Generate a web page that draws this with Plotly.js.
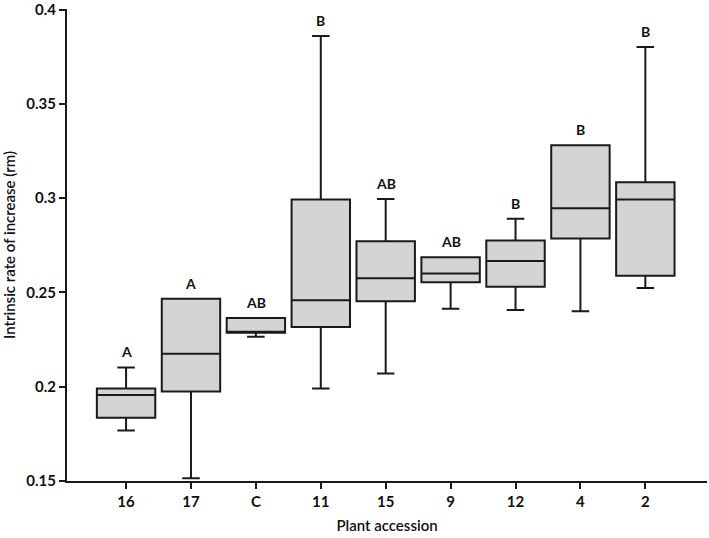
<!DOCTYPE html>
<html>
<head>
<meta charset="utf-8">
<script src="https://cdn.plot.ly/plotly-3.0.1.min.js"></script>
<style>html,body{margin:0;padding:0;background:#fff;}#chart{width:709px;height:538px;}</style>
</head>
<body>
<div id="chart"></div>
<script>
const categories = ["16", "17", "C", "11", "15", "9", "12", "4", "2"];
const lowerWhisker = [0.1768, 0.1514, 0.2265, 0.1991, 0.2070, 0.2414, 0.2407, 0.2400, 0.2523];
const q1Values     = [0.1835, 0.1974, 0.2286, 0.2317, 0.2453, 0.2554, 0.2530, 0.2786, 0.2588];
const medianValues = [0.1956, 0.2175, 0.2288, 0.2458, 0.2575, 0.2600, 0.2667, 0.2947, 0.2993];
const q3Values     = [0.1990, 0.2467, 0.2365, 0.2993, 0.2772, 0.2686, 0.2775, 0.3280, 0.3084];
const upperWhisker = [0.2102, 0.2467, 0.2365, 0.3860, 0.2996, 0.2686, 0.2891, 0.3280, 0.3802];
const groupLetters = ["A", "A", "AB", "B", "AB", "AB", "B", "B", "B"];
const yTickVals = [0.15, 0.2, 0.25, 0.3, 0.35, 0.4];
const yTickText = ["0.15", "0.2", "0.25", "0.3", "0.35", "0.4"];

const fontFam = "Lato, Open Sans, sans-serif";

const trace = {
  type: "box",
  x: categories,
  q1: q1Values,
  median: medianValues,
  q3: q3Values,
  lowerfence: lowerWhisker,
  upperfence: upperWhisker,
  boxpoints: false,
  width: 0.9,
  whiskerwidth: 0.3,
  fillcolor: "#d4d4d4",
  line: {color: "#1a1a1a", width: 2},
  hoverinfo: "skip",
  showlegend: false
};

const annotations = categories.map((c, i) => ({
  x: i,
  y: upperWhisker[i],
  xref: "x",
  yref: "y",
  text: groupLetters[i],
  showarrow: false,
  yanchor: "bottom",
  yshift: 5,
  font: {family: fontFam, size: 14, color: "#111", weight: 700}
}));

const layout = {
  width: 709,
  height: 538,
  margin: {l: 67, r: 2, t: 9, b: 57},
  paper_bgcolor: "#fff",
  plot_bgcolor: "#fff",
  showlegend: false,
  xaxis: {
    type: "category",
    range: [-0.91, 8.95],
    showline: true,
    linecolor: "#1a1a1a",
    linewidth: 2,
    ticks: "outside",
    ticklen: 6,
    tickwidth: 2,
    tickcolor: "#1a1a1a",
    showgrid: false,
    zeroline: false,
    tickfont: {family: fontFam, size: 15, color: "#111", weight: 700},
    title: {text: "Plant accession", standoff: 11, font: {family: fontFam, size: 15, color: "#111", weight: 600}}
  },
  yaxis: {
    range: [0.15, 0.4003],
    tickvals: yTickVals,
    ticktext: yTickText,
    ticklabeloverflow: "allow",
    showline: true,
    linecolor: "#1a1a1a",
    linewidth: 2,
    ticks: "outside",
    ticklen: 6,
    tickwidth: 2,
    tickcolor: "#1a1a1a",
    showgrid: false,
    zeroline: false,
    tickfont: {family: fontFam, size: 15, color: "#111", weight: 700},
    title: {text: "Intrinsic rate of increase (rm)", standoff: 12, font: {family: fontFam, size: 15, color: "#111", weight: 600}}
  },
  annotations: annotations
};

Plotly.newPlot("chart", [trace], layout, {displayModeBar: false, staticPlot: true});
</script>
</body>
</html>
